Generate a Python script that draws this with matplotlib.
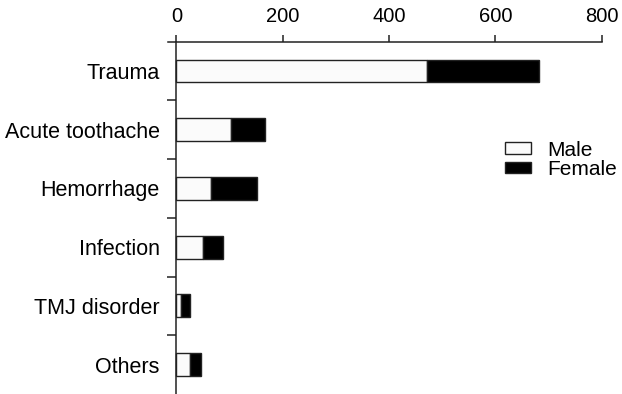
import matplotlib
matplotlib.use("Agg")
import matplotlib.pyplot as plt
from matplotlib.patches import Patch
import numpy as np

plt.rcParams["font.family"] = ["Liberation Sans", "DejaVu Sans"]

categories = ["Trauma", "Acute toothache", "Hemorrhage", "Infection", "TMJ disorder", "Others"]
male = [472, 102, 65, 50, 8, 25]
female = [210, 65, 86, 38, 18, 22]

fig = plt.figure(figsize=(6.22, 3.94), dpi=100)
ax = fig.add_axes([0.2698, 0.0, 0.9674 - 0.2698, 0.8942])

y = np.arange(len(categories))
ax.barh(y, male, height=0.39, color="#fbfbfb", edgecolor="#222222", linewidth=1.0)
ax.barh(y, female, left=male, height=0.39, color="black", edgecolor="#222222", linewidth=1.0)

ax.set_xlim(-16, 800)
ax.set_ylim(5.5, -0.5)

# x axis on top, left spine sitting at zero
ax.spines["right"].set_visible(False)
ax.spines["bottom"].set_visible(False)
ax.spines["left"].set_position(("data", 0))
for s in ("top", "left"):
    ax.spines[s].set_linewidth(1.1)
    ax.spines[s].set_color("#222222")
ax.xaxis.tick_top()
ax.set_xticks([0, 200, 400, 600, 800])
ax.tick_params(axis="x", direction="out", length=5, width=1.1, color="#222222",
               labelsize=14.5, pad=6)

ax.set_yticks(y)
ax.set_yticklabels(categories)
ax.set_yticks(np.arange(0.5, len(categories) - 0.5, 1.0), minor=True)
ax.tick_params(axis="y", which="major", length=0, labelsize=15.5, pad=12)
ax.tick_params(axis="y", which="minor", length=6.5, width=1.1, color="#222222")

handles = [Patch(facecolor="#fbfbfb", edgecolor="#222222", linewidth=1.0, label="Male"),
           Patch(facecolor="black", edgecolor="#222222", linewidth=1.0, label="Female")]
fig.legend(handles=handles, loc="upper left", bbox_to_anchor=(505 / 622, 1 - 140.5 / 394),
           frameon=False, fontsize=15, handlelength=1.25, handleheight=0.5,
           handletextpad=0.8, labelspacing=0.02, borderpad=0, borderaxespad=0)

fig.savefig("out.png", dpi=100)
